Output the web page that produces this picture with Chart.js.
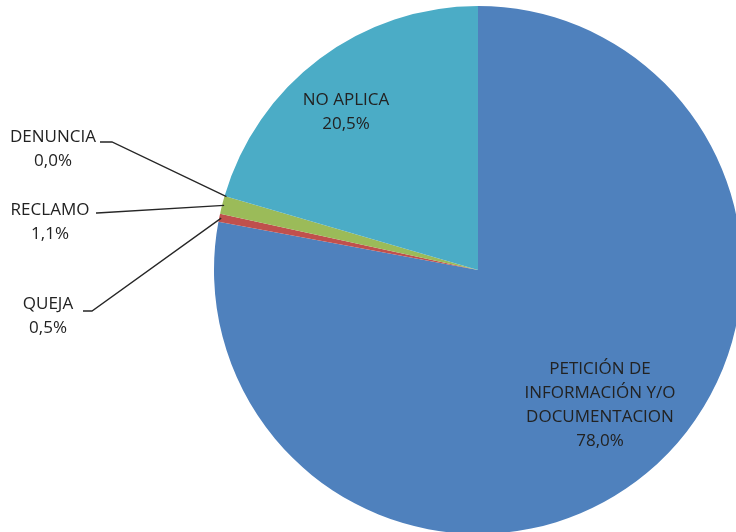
<!DOCTYPE html>
<html>
<head>
<meta charset="utf-8">
<script src="https://cdn.jsdelivr.net/npm/chart.js@4"></script>
<style>
  html, body { margin: 0; padding: 0; background: #fff; overflow: hidden; }
  #wrap { position: relative; width: 760px; height: 540px; }
</style>
</head>
<body>
<div id="wrap"><canvas id="myChart"></canvas></div>
<script>
// categorias y valores (%)
var categorias = ["PETICIÓN DE INFORMACIÓN Y/O DOCUMENTACION", "QUEJA", "RECLAMO", "DENUNCIA", "NO APLICA"];
var valores = [78.0, 0.5, 1.1, 0.0, 20.5];
var etiquetas = ["78,0%", "0,5%", "1,1%", "0,0%", "20,5%"];
var colores = ["#4f81bd", "#c0504d", "#9bbb59", "#8064a2", "#4bacc6"];

// donde va cada texto: lineas del nombre, x, y de la primera linea, y si lleva guia
var textos = [
  { lineas: ["PETICIÓN DE", "INFORMACIÓN Y/O", "DOCUMENTACION"], x: 600, y: 369, guia: null },
  { lineas: ["QUEJA"], x: 48, y: 304, guia: [[83, 311], [92, 311]] },
  { lineas: ["RECLAMO"], x: 50, y: 210, guia: [[96, 213], [97, 213]] },
  { lineas: ["DENUNCIA"], x: 53, y: 137, guia: [[100, 142], [112, 142]] },
  { lineas: ["NO APLICA"], x: 346, y: 100, guia: null }
];

var etiquetasPlugin = {
  id: "etiquetas",
  afterDatasetsDraw: function (chart) {
    var ctx = chart.ctx;
    var arcs = chart.getDatasetMeta(0).data;
    ctx.save();
    ctx.font = "17px 'Open Sans', sans-serif";
    ctx.fillStyle = "#222222";
    ctx.textAlign = "center";
    ctx.textBaseline = "middle";
    textos.forEach(function (t, i) {
      var y = t.y;
      t.lineas.forEach(function (l) {
        ctx.fillText(l, t.x, y);
        y += 24;
      });
      ctx.fillText(etiquetas[i], t.x, y);
      if (t.guia) {
        var a = arcs[i];
        var p = a.getProps(["x", "y", "startAngle", "endAngle", "outerRadius"], true);
        var ang = (p.startAngle + p.endAngle) / 2;
        if (valores[i] === 0) ang = p.startAngle;
        var ex = p.x + Math.cos(ang) * (p.outerRadius - 2);
        var ey = p.y + Math.sin(ang) * (p.outerRadius - 2);
        ctx.beginPath();
        ctx.strokeStyle = "#262626";
        ctx.lineWidth = 1.3;
        ctx.moveTo(t.guia[0][0], t.guia[0][1]);
        ctx.lineTo(t.guia[1][0], t.guia[1][1]);
        ctx.lineTo(ex, ey);
        ctx.stroke();
      }
    });
    ctx.restore();
  }
};

new Chart("myChart", {
  type: "pie",
  data: {
    labels: categorias,
    datasets: [{
      data: valores,
      backgroundColor: colores,
      borderWidth: 0
    }]
  },
  options: {
    responsive: true,
    maintainAspectRatio: false,
    animation: false,
    layout: { padding: { left: 214, top: 6, right: 18, bottom: 6 } },
    plugins: {
      legend: { display: false },
      tooltip: { enabled: false }
    }
  },
  plugins: [etiquetasPlugin]
});
</script>
</body>
</html>
